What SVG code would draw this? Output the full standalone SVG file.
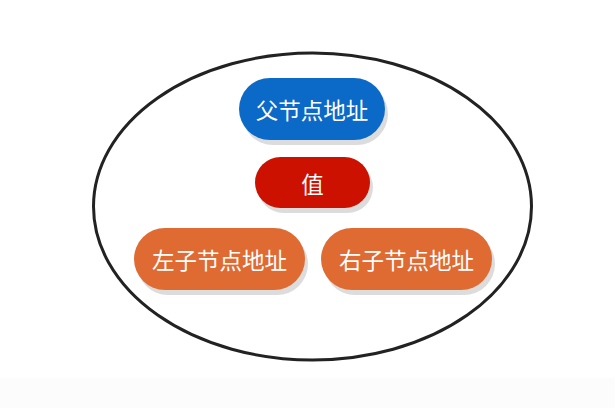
<svg xmlns="http://www.w3.org/2000/svg" width="615" height="408" viewBox="0 0 615 408">
<style>
.sh{fill:#dcdcdc}
.t{font-family:"Noto Sans CJK SC","Noto Sans",sans-serif;font-size:22.5px;fill:#ffffff;text-anchor:middle;dominant-baseline:central}
</style>
<rect x="0" y="0" width="615" height="408" fill="#ffffff"/>
<rect x="0" y="378" width="615" height="30" fill="#fcfcfc"/>
<g id="connectors"></g>
<g id="container">
<ellipse cx="312.5" cy="206.5" rx="219" ry="153.5" fill="none" stroke="#222222" stroke-width="3"/>
</g>
<g id="parent">
<rect class="sh" x="242" y="83" width="146" height="62" rx="31"/>
<rect x="239" y="78" width="146" height="62" rx="31" fill="#0b69c7"/>
<text class="t" x="312" y="109">父节点地址</text>
</g>
<g id="value">
<rect class="sh" x="258" y="162" width="115" height="51" rx="25.5"/>
<rect x="255" y="157" width="115" height="51" rx="25.5" fill="#cc1100"/>
<text class="t" x="312.5" y="182.5">值</text>
</g>
<g id="left">
<rect class="sh" x="137" y="233" width="171" height="62" rx="31"/>
<rect x="134" y="228" width="171" height="62" rx="31" fill="#e06b32"/>
<text class="t" x="219.5" y="259">左子节点地址</text>
</g>
<g id="right">
<rect class="sh" x="324" y="233" width="171" height="62" rx="31"/>
<rect x="321" y="228" width="171" height="62" rx="31" fill="#e06b32"/>
<text class="t" x="406.5" y="259">右子节点地址</text>
</g>
</svg>
